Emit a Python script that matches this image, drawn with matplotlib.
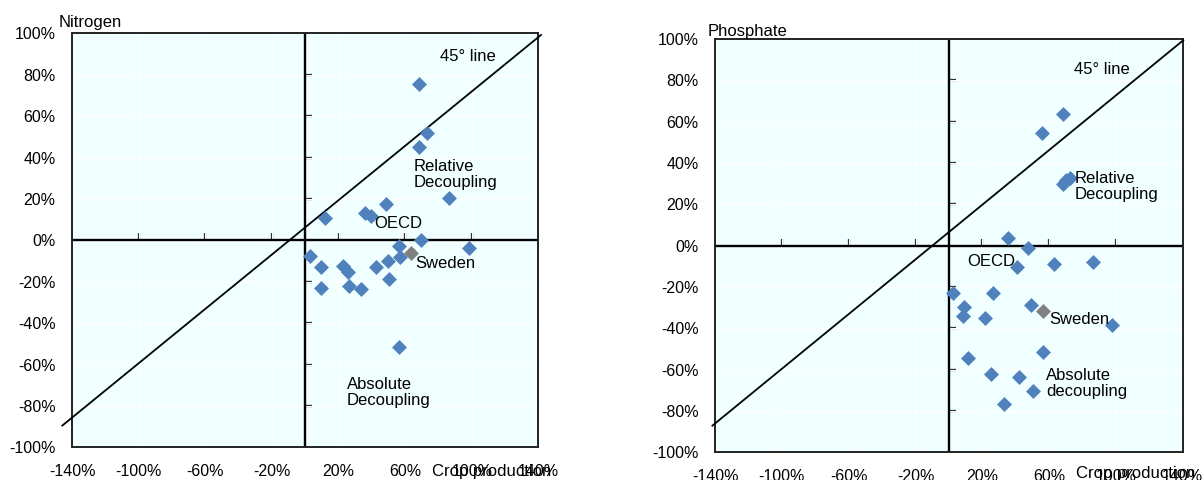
import numpy as np
import matplotlib
matplotlib.use("Agg")
import matplotlib.pyplot as plt
from matplotlib.ticker import FuncFormatter

plt.rcParams['font.family'] = ['Liberation Sans', 'DejaVu Sans']

# Nitrogen balance change vs crop production change (%)
nit_x = [68.3, 72.9, 68.3, 86.5, 48.3, 35.9, 39.5, 11.8, 69.3, 98.4, 56.3, 56.9,
         49.5, 42.5, 50.5, 2.8, 9.4, 9.3, 22.5, 25.5, 26.4, 33.5, 56.5]
nit_y = [75.4, 52.0, 45.2, 20.3, 17.5, 13.0, 11.7, 10.9, 0.1, -3.9, -2.8, -7.9,
         -10.0, -12.8, -18.7, -7.4, -12.8, -23.2, -12.3, -15.3, -22.1, -23.5, -51.7]
nit_sweden = (63.5, -6.3)

# Phosphate balance change vs crop production change (%)
pho_x = [68.2, 55.9, 68.2, 70.2, 72.2, 35.6, 47.6, 41.0, 63.0, 86.5, 2.3, 26.6,
         9.3, 8.7, 21.6, 49.0, 97.9, 56.2, 11.6, 25.2, 42.2, 50.6, 33.2]
pho_y = [63.6, 54.7, 29.7, 31.8, 32.6, 3.6, -1.0, -10.2, -8.9, -8.1, -23.1, -23.1,
         -29.8, -33.9, -35.2, -28.7, -38.4, -51.6, -54.5, -62.1, -63.7, -70.2, -76.6]
pho_sweden = (56.5, -31.5)

# reference line end points
nit_line_x = [-146, 141.6]
nit_line_y = [-89.5, 99.2]
pho_line_x = [-141.6, 140.3]
pho_line_y = [-87.1, 99.4]

x_ticks = [-140, -100, -60, -20, 20, 60, 100, 140]
x_inner = [-100, -60, -20, 20, 60, 100]
y_ticks = list(range(-100, 101, 20))
y_inner = [-80, -60, -40, -20, 20, 40, 60, 80]

blue = '#4F81BD'
grey = '#808080'
pct = FuncFormatter(lambda v, p: '%d%%' % v)


def panel(ax, xs, ys, sweden, lx, ly, title, labels):
    ax.set_facecolor('#F0FFFF')
    ax.set_xlim(-140, 140)
    ax.set_ylim(-100, 100)
    ax.set_xticks(x_ticks)
    ax.set_yticks(y_ticks)
    ax.xaxis.set_major_formatter(pct)
    ax.yaxis.set_major_formatter(pct)
    ax.tick_params(length=0, labelsize=11.5)
    ax.tick_params(axis='x', pad=12)
    ax.tick_params(axis='y', pad=12)
    ax.grid(color='white', linewidth=1)
    ax.set_axisbelow(True)
    for s in ax.spines.values():
        s.set_color('#222222')
        s.set_linewidth(1.4)

    # axes through the origin
    ax.axhline(0, color='black', linewidth=1.7, zorder=2)
    ax.axvline(0, color='black', linewidth=1.7, zorder=2)
    sx = ax.secondary_xaxis(0.5)
    sx.set_xticks(x_inner)
    sx.tick_params(direction='out', length=5, width=1.6, color='black',
                   labeltop=False, labelbottom=False)
    for s in sx.spines.values():
        s.set_visible(False)
    sy = ax.secondary_yaxis(0.5)
    sy.set_yticks(y_inner)
    sy.tick_params(direction='out', length=5, width=1.6, color='black',
                   labelright=False, labelleft=False)
    for s in sy.spines.values():
        s.set_visible(False)

    ax.plot(lx, ly, color='black', linewidth=1.3, clip_on=False, zorder=3)
    ax.scatter(xs, ys, marker='D', s=58, color=blue, linewidths=0, zorder=4)
    ax.scatter([sweden[0]], [sweden[1]], marker='D', s=58, color=grey, linewidths=0, zorder=4)

    for txt, x, y in labels:
        ax.text(x, y, txt, fontsize=12, ha='left', va='center', linespacing=1.1, zorder=5)

    ax.text(title[1], title[2], title[0], transform=ax.transAxes, fontsize=12,
            ha='left', va='baseline')
    ax.text(0.771, title[3], 'Crop production', transform=ax.transAxes, fontsize=12,
            ha='left', va='baseline', clip_on=False)


fig = plt.figure(figsize=(12.03, 4.8), dpi=100)
ax1 = fig.add_axes([0.0601, 0.0681, 0.3874, 0.8625])
ax2 = fig.add_axes([0.5944, 0.0577, 0.3888, 0.861])

panel(ax1, nit_x, nit_y, nit_sweden, nit_line_x, nit_line_y,
      ('Nitrogen', -0.0285, 1.0145, -0.069),
      [('45° line', 80.7, 88.7), ('Relative\nDecoupling', 64.9, 31.6), ('OECD', 41.3, 8.2),
       ('Sweden', 66.3, -11.4), ('Absolute\nDecoupling', 25.1, -73.4)])
panel(ax2, pho_x, pho_y, pho_sweden, pho_line_x, pho_line_y,
      ('Phosphate', -0.0165, 1.008, -0.062),
      [('45° line', 75.0, 85.2), ('Relative\nDecoupling', 75.5, 28.6), ('OECD', 11.0, -7.8),
       ('Sweden', 60.1, -35.6), ('Absolute\ndecoupling', 58.2, -66.7)])

fig.savefig('out.png', dpi=100)
